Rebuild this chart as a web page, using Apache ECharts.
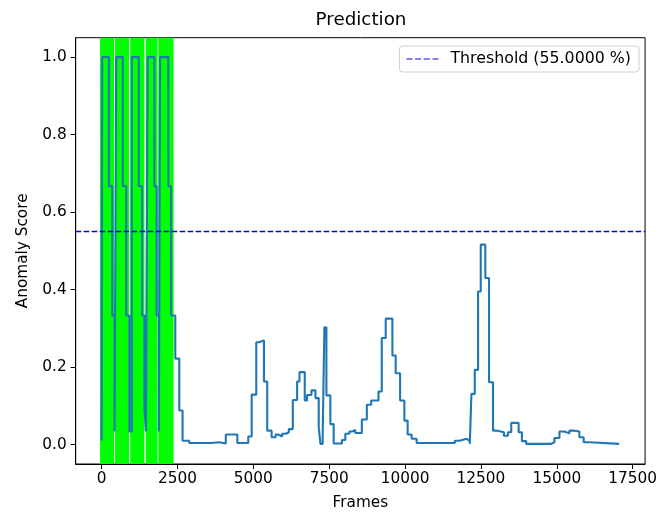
<!DOCTYPE html>
<html>
<head>
<meta charset="utf-8">
<script src="https://cdn.jsdelivr.net/npm/echarts@6/dist/echarts.min.js"></script>
<style>
  html, body { margin: 0; padding: 0; background: #fff; }
  #chart { width: 660px; height: 516px; }
</style>
</head>
<body>
<div id="chart"></div>
<script>
// Frame index where each score level begins (held until the next frame listed)
const frames = [0, 20, 240, 351, 427, 482, 699, 811, 919, 994, 1224, 1336, 1411, 1460, 1520, 1739, 1815, 1887, 1927, 2199, 2288, 2429, 2560, 2668, 2888, 3610, 3873, 4093, 4473, 4834, 4946, 5097, 5186, 5350, 5458, 5602, 5734, 5819, 5950, 6072, 6170, 6301, 6443, 6521, 6695, 6771, 6915, 7047, 7155, 7211, 7286, 7342, 7408, 7539, 7647, 7920, 8031, 8162, 8271, 8359, 8576, 8740, 8884, 9124, 9232, 9363, 9583, 9691, 9836, 9977, 10085, 10217, 10381, 11641, 11805, 12022, 12133, 12186, 12297, 12406, 12494, 12645, 12767, 12898, 13039, 13259, 13390, 13499, 13742, 13850, 13991, 14812, 14923, 15087, 15251, 15415, 15580, 15744, 15885, 16072, 17056];
const scores = [0.01, 1.0, 0.667, 0.333, 0.034, 1.0, 0.667, 0.333, 0.034, 1.0, 0.667, 0.333, 0.1, 0.034, 1.0, 0.667, 0.333, 0.034, 1.0, 0.667, 0.333, 0.222, 0.088, 0.01, 0.004, 0.006, 0.003, 0.026, 0.004, 0.021, 0.129, 0.264, 0.269, 0.163, 0.036, 0.019, 0.026, 0.021, 0.028, 0.032, 0.04, 0.115, 0.163, 0.187, 0.114, 0.128, 0.14, 0.12, 0.045, 0.002, 0.032, 0.303, 0.127, 0.053, 0.003, 0.012, 0.028, 0.034, 0.038, 0.03, 0.065, 0.103, 0.114, 0.137, 0.275, 0.325, 0.23, 0.184, 0.114, 0.062, 0.026, 0.015, 0.004, 0.01, 0.015, 0.01, 0.002, 0.131, 0.193, 0.395, 0.516, 0.43, 0.161, 0.036, 0.032, 0.023, 0.032, 0.056, 0.032, 0.009, 0.002, 0.006, 0.017, 0.034, 0.029, 0.036, 0.034, 0.019, 0.006, 0.002, 0.002];

// Ground-truth anomaly intervals (frames)
const anomalyStart = [-49, 443, 942, 1460, 1871];
const anomalyEnd   = [410, 903, 1411, 1844, 2373];

const threshold = 0.55;
const thresholdLabel = 'Threshold (55.0000 %)';

const xTicks = [0, 2500, 5000, 7500, 10000, 12500, 15000, 17500];
const yTicks = [0.0, 0.2, 0.4, 0.6, 0.8, 1.0];

const xMin = -853, xMax = 17909;
const yMin = -0.05, yMax = 1.05;

const FONT = 'DejaVu Sans';
const FS = 15.3;
const chart = echarts.init(document.getElementById('chart'), null, { renderer: 'canvas' });

const scoreData = frames.map((f, i) => [f, scores[i]]);
const spans = anomalyStart.map((s, i) => [{ xAxis: s }, { xAxis: anomalyEnd[i] }]);

// four short dashes for the legend handle
const dashIcon = 'path://M0 0H6V1H0Z M8.7 0H14.7V1H8.7Z M17.4 0H23.4V1H17.4Z M26.1 0H32.1V1H26.1Z';

chart.setOption({
  animation: false,
  backgroundColor: '#ffffff',
  textStyle: { fontFamily: FONT },
  graphic: [{
    type: 'text',
    x: 361, y: 20,
    style: { text: 'Prediction', font: '18.3px "DejaVu Sans"', fill: '#000', textAlign: 'center', textVerticalAlign: 'middle' }
  }],
  grid: { left: 75.7, right: 13, top: 37.7, bottom: 52, show: true, borderColor: '#000', borderWidth: 1, backgroundColor: 'transparent' },
  legend: {
    data: [{ name: thresholdLabel, icon: dashIcon }],
    right: 21, top: 46,
    itemWidth: 32, itemHeight: 1.4,
    padding: [5, 8, 5, 7],
    borderColor: '#d0d0d0', borderWidth: 1, borderRadius: 3,
    backgroundColor: 'rgba(255,255,255,0.8)',
    itemStyle: { color: '#0000ff' },
    textStyle: { fontFamily: FONT, fontSize: 15.8, color: '#000', padding: [0, 0, 0, 7] }
  },
  xAxis: {
    type: 'value', min: xMin, max: xMax,
    name: 'Frames', nameLocation: 'middle', nameGap: 32,
    nameTextStyle: { fontFamily: FONT, fontSize: FS, color: '#000' },
    axisLine: { show: true, onZero: false, lineStyle: { color: '#000', width: 1 } },
    axisTick: { show: true, length: 5, lineStyle: { color: '#000', width: 1 }, customValues: xTicks },
    axisLabel: { fontFamily: FONT, fontSize: FS, color: '#000', margin: 8, customValues: xTicks, formatter: v => String(Math.round(v)) },
    splitLine: { show: false }
  },
  yAxis: {
    type: 'value', min: yMin, max: yMax,
    name: 'Anomaly Score', nameLocation: 'middle', nameGap: 45,
    nameTextStyle: { fontFamily: FONT, fontSize: FS, color: '#000' },
    axisLine: { show: true, onZero: false, lineStyle: { color: '#000', width: 1 } },
    axisTick: { show: true, length: 5, lineStyle: { color: '#000', width: 1 }, customValues: yTicks },
    axisLabel: { fontFamily: FONT, fontSize: FS, color: '#000', margin: 9, customValues: yTicks, formatter: v => v.toFixed(1) },
    splitLine: { show: false }
  },
  series: [
    {
      name: 'Score',
      type: 'line',
      step: 'end',
      data: scoreData,
      symbol: 'none',
      lineStyle: { color: '#1f77b4', width: 2.1 },
      itemStyle: { color: '#1f77b4' },
      z: 3,
      markArea: {
        silent: true,
        itemStyle: { color: '#00ff00', opacity: 1 },
        data: spans
      }
    },
    {
      name: thresholdLabel,
      type: 'line',
      data: [[xMin, threshold], [xMax, threshold]],
      symbol: 'none',
      color: '#0000ff',
      lineStyle: { color: '#0000ff', width: 1.4, type: [5.5, 2.5], opacity: 1 },
      itemStyle: { color: '#0000ff' },
      z: 4
    }
  ]
});
</script>
</body>
</html>
